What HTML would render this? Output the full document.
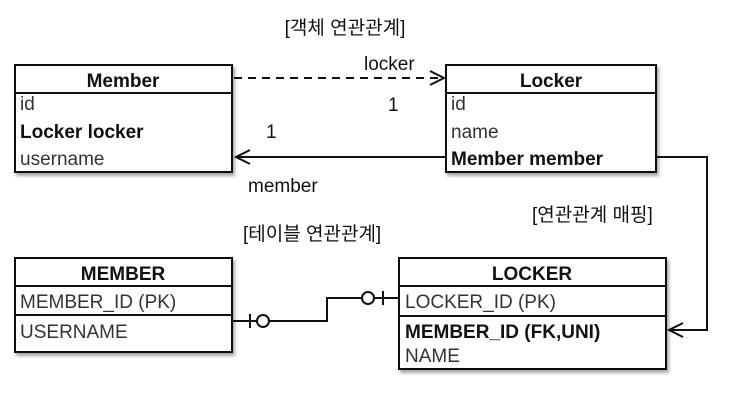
<!DOCTYPE html>
<html><head><meta charset="utf-8"><style>
body{margin:0;background:#fff;width:740px;height:407px;overflow:hidden}
svg text{font-family:"Liberation Sans","Noto Sans CJK KR",sans-serif;font-size:19px;fill:#111}
.b{font-weight:bold}
.g{fill:#333}
</style></head><body>
<svg width="740" height="407" xmlns="http://www.w3.org/2000/svg">
<defs><filter id="s" x="-5%" y="-5%" width="115%" height="120%"><feDropShadow dx="2" dy="3" stdDeviation="1.5" flood-opacity="0.35"/></filter></defs>
<g fill="#fff" stroke="#111" stroke-width="2" filter="url(#s)">
<rect x="15" y="65" width="217" height="107"/>
<rect x="446" y="65" width="210" height="107"/>
<rect x="15" y="258" width="217" height="94"/>
<rect x="399" y="258" width="267" height="111"/>
</g>
<g stroke="#111" stroke-width="2" fill="none">
<line x1="15" y1="93" x2="232" y2="93"/>
<line x1="446" y1="93" x2="656" y2="93"/>
<line x1="15" y1="286" x2="232" y2="286"/>
<line x1="15" y1="315" x2="232" y2="315"/>
<line x1="399" y1="286" x2="666" y2="286"/>
<line x1="399" y1="316" x2="666" y2="316"/>
<line x1="234" y1="78" x2="444" y2="78" stroke-dasharray="8,6"/>
<polyline points="430,71 444,78 430,85"/>
<line x1="236" y1="157" x2="446" y2="157"/>
<polyline points="250,150 236,157 250,164"/>
<polyline points="656,157 707,157 707,330 669,330"/>
<polyline points="683,323 669,330 683,337"/>
<polyline points="232,321 327,321 327,298 399,298"/>
<line x1="250" y1="314" x2="250" y2="328"/>
<circle cx="263" cy="321" r="6" fill="#fff"/>
<line x1="383" y1="291" x2="383" y2="305"/>
<circle cx="368" cy="298" r="6" fill="#fff"/>
</g>
<text x="345" y="34" text-anchor="middle">[객체 연관관계]</text>
<text x="123" y="87" text-anchor="middle" class="b">Member</text>
<text x="20" y="110" class="g">id</text>
<text x="20" y="138" class="b">Locker locker</text>
<text x="20" y="165" class="g">username</text>
<text x="551" y="87" text-anchor="middle" class="b">Locker</text>
<text x="451" y="110" class="g">id</text>
<text x="451" y="138" class="g">name</text>
<text x="451" y="165" class="b">Member member</text>
<text x="364" y="70">locker</text>
<text x="388" y="111">1</text>
<text x="266" y="138">1</text>
<text x="248" y="192">member</text>
<text x="532" y="221">[연관관계 매핑]</text>
<text x="243" y="240">[테이블 연관관계]</text>
<text x="123" y="280" text-anchor="middle" class="b">MEMBER</text>
<text x="20" y="308" class="g">MEMBER_ID (PK)</text>
<text x="20" y="338" class="g">USERNAME</text>
<text x="532" y="280" text-anchor="middle" class="b">LOCKER</text>
<text x="405" y="308" class="g">LOCKER_ID (PK)</text>
<text x="405" y="338" class="b">MEMBER_ID (FK,UNI)</text>
<text x="405" y="362" class="g">NAME</text>
</svg>
</body></html>
